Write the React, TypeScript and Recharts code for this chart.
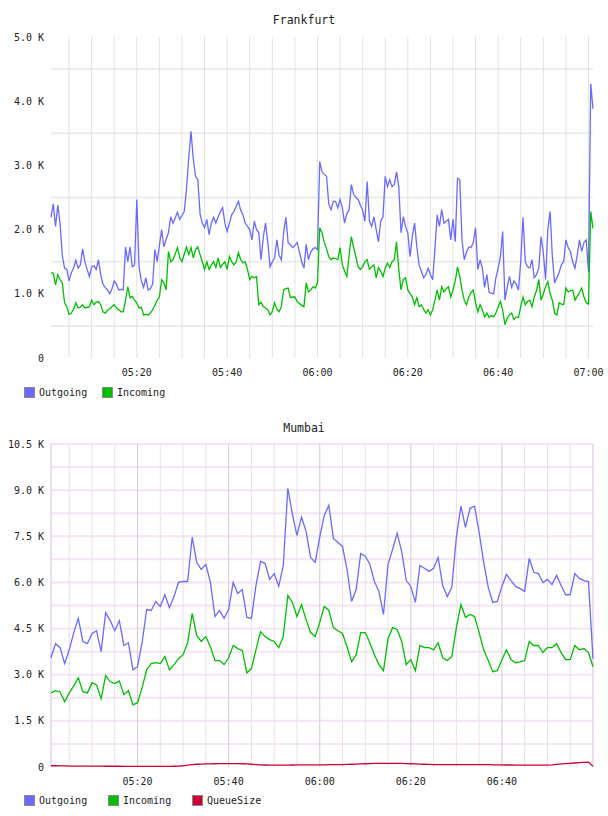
import { LineChart, Line, XAxis, YAxis, ReferenceLine } from "recharts";

const FONT = "'DejaVu Sans Mono', monospace";
const BLUE = "#6a6aff";
const GREEN = "#00bf00";
const RED = "#cc0033";
const TEXT = "#222";

// Frankfurt: one sample every 30 s starting at 05:01
const FRANKFURT_START = 301;
const FRANKFURT_STEP = 0.5;

const frankfurtOutgoing = [
  2190, 2400, 2050, 2380, 2100, 1600, 1400, 1380, 1200, 1330,
  1400, 1520, 1400, 1450, 1700, 1500, 1380, 1270, 1420, 1440,
  1380, 1530, 1300, 1150, 1100, 1060, 1000, 1080, 1200, 1150,
  1060, 1070, 1060, 1730, 1500, 1730, 1420, 1450, 2470, 1420,
  1200, 1100, 1250, 1060, 1080, 1150, 1690, 1500, 1750, 2000,
  1730, 1850, 1950, 2200, 2100, 2180, 2270, 2160, 2220, 2280,
  2630, 3120, 3530, 3100, 2830, 2780, 2250, 2100, 2030, 2160,
  1920, 2100, 2190, 2100, 2200, 2280, 2340, 2100, 1970, 2100,
  2230, 2280, 2360, 2440, 2300, 2230, 2100, 2050, 2000, 1840,
  2130, 2000, 1950, 1530, 1880, 2100, 1800, 1420, 1500, 1560,
  1840, 1600, 1530, 1950, 2190, 1800, 1760, 1720, 1750, 1800,
  1650, 1500, 1400, 1770, 1530, 1650, 1700, 1720, 1690, 3060,
  2900, 2860, 2830, 2400, 2310, 2440, 2440, 2340, 2470, 2340,
  2100, 2250, 2310, 2700, 2550, 2500, 2470, 2380, 2300, 2130,
  2750, 2130, 2050, 2200, 2000, 1810, 2130, 2200, 2830, 2670,
  2780, 2670, 2700, 2900, 2670, 1950, 2200, 2050, 1950, 1580,
  1900, 2100, 1730, 1450, 1350, 1250, 1300, 1400, 1300, 1220,
  1700, 2230, 2050, 2310, 2100, 2130, 2160, 1840, 2160, 1810,
  2800, 2780, 1840, 1530, 1650, 1730, 1720, 1800, 2030, 1380,
  1530, 1400, 1100, 1300, 1020, 1010, 1000, 1250, 1400, 1580,
  1970, 900, 1100, 1270, 1100, 1200, 1150, 1060, 1500, 2190,
  1500, 1420, 1400, 1530, 1250, 1300, 1400, 1890, 1640, 1220,
  2000, 2280, 1580, 1170, 1250, 1330, 1450, 1500, 1840, 1720,
  1660, 1500, 1400, 1600, 1840, 1660, 1800, 1840, 1340, 4270, 3880,
];

const frankfurtIncoming = [
  1330, 1320, 1140, 1300, 1220, 1170, 860, 800, 680, 700,
  760, 860, 780, 790, 830, 780, 790, 800, 900, 830,
  870, 880, 830, 720, 700, 740, 770, 800, 830, 780,
  750, 720, 720, 900, 1110, 940, 960, 900, 860, 780,
  790, 670, 680, 670, 700, 750, 820, 900, 950, 1220,
  1170, 1060, 1660, 1500, 1530, 1620, 1720, 1560, 1500, 1620,
  1730, 1610, 1720, 1560, 1690, 1730, 1610, 1500, 1380, 1500,
  1380, 1450, 1500, 1410, 1560, 1410, 1460, 1500, 1380, 1580,
  1500, 1450, 1500, 1640, 1530, 1480, 1500, 1380, 1220, 1270,
  1250, 1270, 830, 870, 800, 780, 750, 670, 720, 860,
  760, 720, 800, 1060, 1080, 1090, 940, 950, 950, 880,
  850, 820, 800, 1170, 1030, 1060, 1110, 1090, 1170, 2030,
  1950, 1800, 1700, 1580, 1530, 1560, 1550, 1530, 1720, 1450,
  1350, 1270, 1600, 1890, 1720, 1580, 1420, 1380, 1420, 1500,
  1530, 1380, 1420, 1450, 1250, 1410, 1350, 1270, 1400, 1480,
  1410, 1500, 1530, 1810, 1380, 1060, 1220, 1250, 1060, 1000,
  950, 830, 940, 800, 830, 760, 700, 750, 670, 750,
  900, 1060, 900, 1110, 1030, 1080, 1110, 950, 1060, 1200,
  1420, 1270, 1060, 900, 830, 950, 1020, 1060, 860, 720,
  830, 750, 640, 700, 630, 660, 640, 700, 800, 880,
  750, 520, 620, 670, 700, 600, 640, 630, 800, 950,
  830, 880, 900, 800, 950, 1050, 1220, 900, 1000, 1110,
  1190, 1000, 900, 700, 670, 860, 840, 830, 1090, 1030,
  1050, 1060, 900, 960, 1020, 1090, 950, 860, 840, 2280, 2020,
];

// Mumbai: one sample per minute starting at 05:01
const MUMBAI_START = 301;
const MUMBAI_STEP = 1;

const mumbaiOutgoing = [
  3550, 4010, 3880, 3360, 3810, 4370, 4830, 4080, 4010, 4340,
  4430, 3750, 5020, 4760, 4430, 4760, 3950, 4040, 3160, 3260,
  4040, 5120, 5090, 5380, 5220, 5600, 5180, 5540, 6000, 6030,
  6030, 7470, 6650, 6420, 6590, 6000, 4890, 5090, 4830, 5120,
  6000, 5640, 5770, 4860, 4830, 5900, 6680, 6620, 6100, 6290,
  5870, 6550, 9060, 8220, 7530, 8120, 7660, 6810, 6650, 7470,
  8180, 8510, 7430, 7300, 7170, 6420, 5380, 5770, 6940, 6850,
  6590, 6030, 5710, 4960, 6590, 7080, 7600, 7000, 6060, 5870,
  5350, 6550, 6460, 6360, 6460, 6810, 5900, 5540, 5840, 7470,
  8480, 7790, 8410, 8480, 7630, 6650, 5840, 5350, 5380, 5870,
  6260, 6060, 5870, 5800, 5710, 6780, 6330, 6290, 6000, 6100,
  5930, 6230, 5900, 5600, 5600, 6290, 6130, 6060, 6030, 3520,
];

const mumbaiIncoming = [
  2410, 2480, 2440, 2120, 2410, 2640, 2900, 2450, 2410, 2740,
  2670, 2220, 2970, 2770, 2710, 2800, 2350, 2480, 2020, 2090,
  2580, 3160, 3360, 3390, 3360, 3590, 3160, 3330, 3520, 3650,
  4040, 4990, 4270, 4080, 4240, 3910, 3460, 3460, 3330, 3550,
  3950, 3850, 3780, 3060, 3200, 3810, 4400, 4240, 4140, 4080,
  3880, 4240, 5580, 5350, 4890, 5280, 4790, 4370, 4240, 4700,
  5220, 5090, 4530, 4430, 4340, 3910, 3420, 3650, 4370, 4370,
  4040, 3650, 3330, 3130, 4170, 4530, 4470, 4080, 3330, 3490,
  3130, 3950, 3880, 3880, 3810, 4040, 3550, 3460, 3590, 4530,
  5280, 4860, 4960, 4890, 4370, 3810, 3460, 3100, 3130, 3490,
  3810, 3490, 3390, 3420, 3460, 4080, 3950, 3950, 3720, 3880,
  3880, 4010, 3720, 3490, 3490, 3950, 3810, 3850, 3720, 3260,
];

const mumbaiQueue = [
  40, 40, 35, 35, 30, 30, 30, 30, 30, 30,
  30, 30, 25, 25, 25, 25, 20, 20, 20, 20,
  20, 20, 20, 20, 20, 20, 20, 25, 30, 40,
  60, 80, 90, 95, 100, 100, 105, 110, 110, 110,
  110, 110, 105, 100, 90, 80, 70, 65, 60, 60,
  60, 60, 60, 65, 70, 70, 70, 70, 70, 70,
  70, 75, 75, 80, 80, 85, 90, 95, 100, 105,
  110, 115, 120, 120, 120, 120, 120, 115, 110, 105,
  100, 95, 90, 85, 80, 80, 75, 75, 75, 75,
  75, 75, 75, 75, 75, 75, 75, 70, 70, 70,
  65, 65, 60, 60, 60, 60, 60, 60, 60, 60,
  70, 85, 100, 110, 120, 130, 140, 150, 160, 20,
];

// axis ticks and grid positions (minutes after midnight / raw values)
const frankfurtTimeTicks = [320, 340, 360, 380, 400, 420];
const frankfurtValueTicks = [0, 1000, 2000, 3000, 4000, 5000];
const frankfurtGridValues = [500, 1500, 2500, 3500, 4500];
const frankfurtGridTimes = [
  305, 310, 315, 320, 325, 330, 335, 340, 345, 350, 355, 360,
  365, 370, 375, 380, 385, 390, 395, 400, 405, 410, 415, 420,
];

const mumbaiTimeTicks = [320, 340, 360, 380, 400];
const mumbaiValueTicks = [0, 1500, 3000, 4500, 6000, 7500, 9000, 10500];
const mumbaiGridValues = [750, 1500, 2250, 3000, 3750, 4500, 5250, 6000, 6750, 7500, 8250, 9000, 9750, 10500];
const mumbaiMinorTimes = [
  305, 310, 315, 325, 330, 335, 345, 350, 355, 365, 370, 375,
  385, 390, 395, 405, 410, 415,
];
const mumbaiMajorTimes = [320, 340, 360, 380, 400];

const frankfurtRows = frankfurtOutgoing.map((out, i) => ({
  t: FRANKFURT_START + i * FRANKFURT_STEP,
  out,
  inc: frankfurtIncoming[i],
}));

const mumbaiRows = mumbaiOutgoing.map((out, i) => ({
  t: MUMBAI_START + i * MUMBAI_STEP,
  out,
  inc: mumbaiIncoming[i],
  queue: mumbaiQueue[i],
}));

const hhmm = (m: number) =>
  `${String(Math.floor(m / 60)).padStart(2, "0")}:${String(Math.round(m % 60)).padStart(2, "0")}`;
const kilo = (v: number) => (v === 0 ? "0" : `${(v / 1000).toFixed(1)} K`);

const tickStyle = { fontSize: 10, fill: TEXT, fontFamily: FONT };

function Title({ text, top }: { text: string; top: number }) {
  return (
    <div
      style={{
        position: "absolute",
        left: 0,
        top,
        width: 608,
        textAlign: "center",
        fontFamily: FONT,
        fontSize: 11.5,
        color: TEXT,
        lineHeight: "14px",
      }}
    >
      {text}
    </div>
  );
}

function LegendItem({ color, label, left, top }: { color: string; label: string; left: number; top: number }) {
  return (
    <div style={{ position: "absolute", left, top, display: "flex", alignItems: "center", height: 12 }}>
      <div style={{ width: 9, height: 9, background: color, border: "1px solid #8a8a8a" }} />
      <span style={{ marginLeft: 4, fontFamily: FONT, fontSize: 10, color: TEXT }}>{label}</span>
    </div>
  );
}

export default function App() {
  return (
    <div style={{ position: "absolute", left: 0, top: 0, width: 608, height: 816, background: "#fff" }}>
      <Title text="Frankfurt" top={13} />
      <div style={{ position: "absolute", left: 0, top: 0 }}>
        <LineChart width={608} height={400} data={frankfurtRows} margin={{ top: 37, right: 15, left: 6, bottom: 12 }}>
          <XAxis
            type="number"
            dataKey="t"
            domain={[301, 421]}
            ticks={frankfurtTimeTicks}
            interval={0}
            tickFormatter={hhmm}
            axisLine={false}
            tickLine={false}
            tickSize={6}
            tickMargin={5}
            height={30}
            tick={tickStyle}
          />
          <YAxis
            type="number"
            domain={[0, 5000]}
            ticks={frankfurtValueTicks}
            interval={0}
            tickFormatter={kilo}
            axisLine={false}
            tickLine={false}
            tickSize={5}
            tickMargin={2}
            width={45}
            tick={tickStyle}
          />
          {frankfurtGridValues.map((v) => (
            <ReferenceLine key={`h${v}`} y={v} stroke="#ececec" strokeWidth={2} />
          ))}
          {frankfurtGridTimes.map((m) => (
            <ReferenceLine key={`v${m}`} x={m} stroke="#e2e2e2" strokeWidth={1} />
          ))}
          <Line type="linear" dataKey="out" stroke={BLUE} strokeWidth={1.3} dot={false} isAnimationActive={false} />
          <Line type="linear" dataKey="inc" stroke={GREEN} strokeWidth={1.3} dot={false} isAnimationActive={false} />
        </LineChart>
      </div>
      <LegendItem color={BLUE} label="Outgoing" left={24} top={386} />
      <LegendItem color={GREEN} label="Incoming" left={102} top={386} />

      <Title text="Mumbai" top={421} />
      <div style={{ position: "absolute", left: 0, top: 400 }}>
        <LineChart width={608} height={416} data={mumbaiRows} margin={{ top: 44, right: 15, left: 6, bottom: 19 }}>
          <XAxis
            type="number"
            dataKey="t"
            domain={[301, 420]}
            ticks={mumbaiTimeTicks}
            interval={0}
            tickFormatter={hhmm}
            axisLine={false}
            tickLine={false}
            tickSize={6}
            tickMargin={5}
            height={30}
            tick={tickStyle}
          />
          <YAxis
            type="number"
            domain={[0, 10500]}
            ticks={mumbaiValueTicks}
            interval={0}
            tickFormatter={kilo}
            axisLine={false}
            tickLine={false}
            tickSize={5}
            tickMargin={2}
            width={45}
            tick={tickStyle}
          />
          {mumbaiGridValues.map((v) => (
            <ReferenceLine key={`h${v}`} y={v} stroke="#f1e6f1" strokeWidth={2} />
          ))}
          {mumbaiMinorTimes.map((m) => (
            <ReferenceLine key={`v${m}`} x={m} stroke="#ebe0ec" strokeWidth={1} />
          ))}
          {mumbaiMajorTimes.map((m) => (
            <ReferenceLine key={`M${m}`} x={m} stroke="#dcc4e0" strokeWidth={1} />
          ))}
          <ReferenceLine x={301} stroke="#e4d0e8" strokeWidth={1.5} />
          <ReferenceLine x={420} stroke="#e4d0e8" strokeWidth={1.5} />
          <Line type="linear" dataKey="out" stroke={BLUE} strokeWidth={1.3} dot={false} isAnimationActive={false} />
          <Line type="linear" dataKey="inc" stroke={GREEN} strokeWidth={1.3} dot={false} isAnimationActive={false} />
          <Line type="linear" dataKey="queue" stroke={RED} strokeWidth={1.3} dot={false} isAnimationActive={false} />
        </LineChart>
      </div>
      <LegendItem color={BLUE} label="Outgoing" left={24} top={794} />
      <LegendItem color={GREEN} label="Incoming" left={108} top={794} />
      <LegendItem color={RED} label="QueueSize" left={192} top={794} />
    </div>
  );
}
